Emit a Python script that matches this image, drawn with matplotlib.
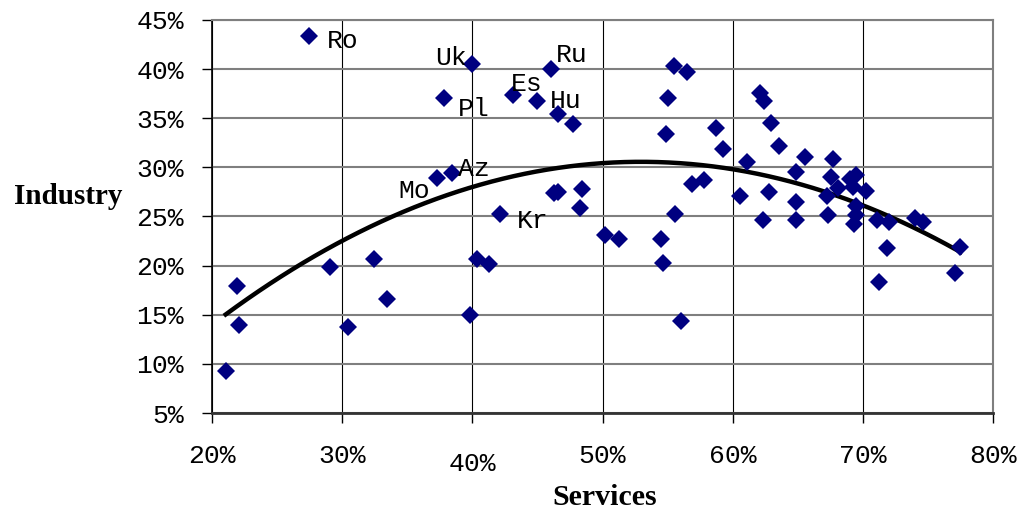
import numpy as np
import matplotlib
matplotlib.use("Agg")
import matplotlib.pyplot as plt
from matplotlib.ticker import FixedLocator, FuncFormatter

# ---- data (percent) ----
services = [27.47, 40.0, 46.04, 37.8, 43.15, 45.0, 46.55, 47.7, 37.26, 38.41,
            46.27, 46.55, 48.4, 48.26, 42.14, 21.92, 22.07, 21.05, 29.09, 30.45,
            32.42, 33.41, 39.79, 40.33, 41.27, 55.48, 56.46, 55.05, 54.85, 58.73,
            59.27, 61.07, 62.11, 62.4, 62.91, 63.57, 65.54, 67.7, 64.86, 67.57,
            69.46, 69.05, 69.26, 68.1, 70.25, 67.26, 62.76, 60.59, 56.87, 57.81,
            64.86, 69.51, 69.46, 67.33, 55.54, 62.32, 64.86, 69.31, 71.12, 72.0,
            74.0, 74.65, 50.16, 51.28, 54.49, 54.64, 56.0, 71.84, 71.23, 77.5,
            77.09]
industry = [43.4, 40.52, 40.01, 37.03, 37.4, 36.79, 35.46, 34.4, 28.95, 29.46,
            27.36, 27.46, 27.77, 25.83, 25.22, 17.89, 13.99, 9.24, 19.86, 13.72,
            20.64, 16.6, 15.01, 20.67, 20.13, 40.32, 39.68, 37.06, 33.37, 34.0,
            31.87, 30.55, 37.6, 36.72, 34.55, 32.18, 31.06, 30.88, 29.56, 29.05,
            29.26, 28.78, 28.04, 27.87, 27.6, 27.12, 27.46, 27.09, 28.31, 28.68,
            26.45, 26.1, 25.15, 25.15, 25.25, 24.6, 24.6, 24.27, 24.6, 24.44,
            24.85, 24.47, 23.15, 22.68, 22.68, 20.3, 14.36, 21.83, 18.37, 21.9,
            19.28]
label_names = ["Ro", "Uk", "Ru", "Pl", "Es", "Hu", "Mo", "Az", "Kr"]
label_index = [0, 1, 2, 3, 4, 5, 8, 9, 14]
x_ticks = [20, 30, 40, 50, 60, 70, 80]
y_ticks = [5, 10, 15, 20, 25, 30, 35, 40, 45]

# label placement (pixels offset, alignment) -- styling only
label_style = {
    "Ro": (18, -5, "left"), "Uk": (-5, 6, "right"), "Ru": (5, 14, "left"),
    "Pl": (14, -11, "left"), "Es": (-2, 11, "left"), "Hu": (12, 0, "left"),
    "Mo": (-7, -13, "right"), "Az": (6, 4, "left"), "Kr": (17, -7, "left"),
}

W, H, DPI = 1019, 511, 100
fig = plt.figure(figsize=(W / DPI, H / DPI), dpi=DPI)
ax = fig.add_axes([212 / W, 1 - 413 / H, (993 - 212) / W, (413 - 20) / H])

mono = "Liberation Mono"
serif = "Liberation Serif"

x = np.array(services)
y = np.array(industry)
coef = np.polyfit(x, y, 2)
xs = np.linspace(x.min(), x.max(), 200)
ax.plot(xs, np.polyval(coef, xs), color="black", lw=3.2, zorder=2)

ax.plot(x, y, linestyle="none", marker="D", ms=9.2, color="#000080",
        markeredgewidth=0, zorder=3)

for name, idx in zip(label_names, label_index):
    dx, dy, ha = label_style[name]
    ax.annotate(name, (services[idx], industry[idx]), xytext=(dx, dy),
                textcoords="offset pixels", ha=ha, va="center",
                fontsize=19, family=mono, color="black", zorder=4)

ax.set_xlim(20, 80)
ax.set_ylim(5, 45)
ax.xaxis.set_major_locator(FixedLocator(x_ticks))
ax.yaxis.set_major_locator(FixedLocator(y_ticks))
fmt = FuncFormatter(lambda v, p: f"{v:.0f}%")
ax.xaxis.set_major_formatter(fmt)
ax.yaxis.set_major_formatter(fmt)

for lab in ax.get_xticklabels() + ax.get_yticklabels():
    lab.set_family(mono)
    lab.set_fontsize(19)

ax.tick_params(axis="x", direction="out", length=7, width=1, color="black", pad=15)
ax.tick_params(axis="y", direction="out", length=7, width=1, color="black", pad=13)

ax.grid(axis="y", color="#7f7f7f", lw=1.5, zorder=0)
ax.grid(axis="x", color="black", lw=0.8, zorder=0)
ax.set_axisbelow(True)
ax.spines["left"].set_color("black")
ax.spines["left"].set_linewidth(1.2)
ax.spines["bottom"].set_color("#333333")
ax.spines["bottom"].set_linewidth(2)
ax.spines["top"].set_color("#7f7f7f")
ax.spines["top"].set_linewidth(1.5)
ax.spines["right"].set_color("#7f7f7f")
ax.spines["right"].set_linewidth(1.5)

# the 40% label sits slightly lower in the reference
ax.xaxis.get_major_ticks()[2].set_pad(21)

fig.text(68 / W, 1 - 196 / H, "Industry", ha="center", va="center",
         fontsize=21, family=serif, weight="bold")
fig.text(605 / W, 1 - 497 / H, "Services", ha="center", va="center",
         fontsize=21.5, family=serif, weight="bold")

fig.savefig("out.png", dpi=DPI)
